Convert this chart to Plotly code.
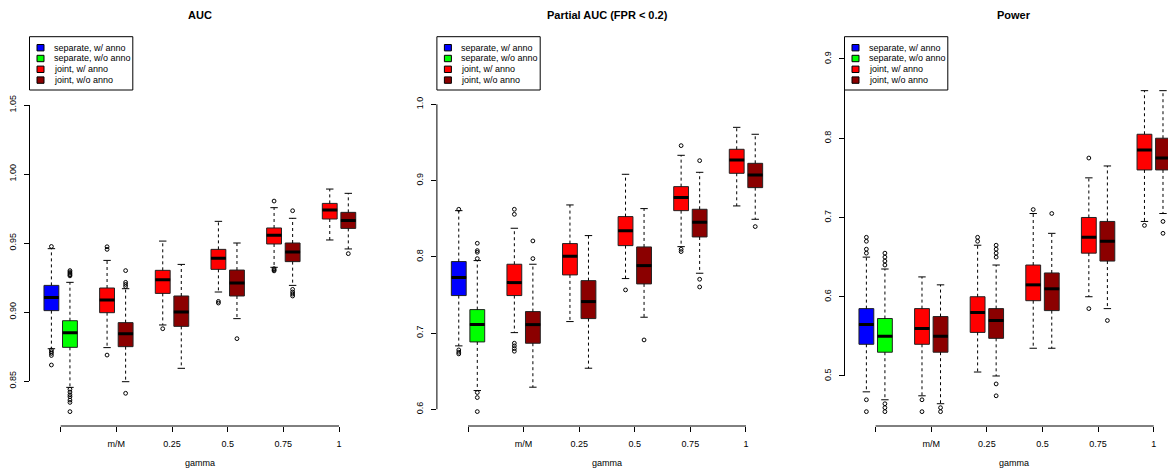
import plotly.graph_objects as go

# ---------------- data ----------------
GROUPS = ["", "m/M", "0.25", "0.5", "0.75", "1"]
SERIES = ["separate, w/ anno", "separate, w/o anno", "joint, w/ anno", "joint, w/o anno"]
COLORS = ["#0000FF", "#00FF00", "#FF0000", "#8B0000"]
# which series / which gamma group each of the 12 boxes belongs to
BOX_SERIES = [0, 1, 2, 3, 2, 3, 2, 3, 2, 3, 2, 3]
BOX_GROUP = [0, 0, 1, 1, 2, 2, 3, 3, 4, 4, 5, 5]

AUC_HI = [0.9459, 0.9215, 0.9374, 0.9169, 0.9514, 0.9345, 0.9657, 0.9500, 0.9756, 0.9679, 0.9891, 0.9860]
AUC_Q3 = [0.9193, 0.8937, 0.9174, 0.8923, 0.9302, 0.9116, 0.9454, 0.9304, 0.9609, 0.9500, 0.9787, 0.9722]
AUC_MED = [0.9106, 0.8850, 0.9087, 0.8843, 0.9234, 0.9000, 0.9389, 0.9210, 0.9556, 0.9435, 0.9739, 0.9664]
AUC_Q1 = [0.9010, 0.8744, 0.8995, 0.8749, 0.9135, 0.8896, 0.9309, 0.9116, 0.9493, 0.9365, 0.9674, 0.9606]
AUC_LO = [0.8734, 0.8454, 0.8742, 0.8495, 0.8906, 0.8592, 0.9145, 0.8952, 0.9324, 0.9193, 0.9522, 0.9457]
AUC_OUT = [
    [0.9475, 0.8725, 0.8712, 0.8700, 0.8685, 0.8616],
    [0.9300, 0.9290, 0.9280, 0.9270, 0.9262, 0.8440, 0.8420, 0.8400, 0.8386, 0.8362, 0.8345, 0.8278],
    [0.9473, 0.9454, 0.8688],
    [0.9300, 0.9215, 0.9200, 0.9185, 0.8411],
    [0.8879],
    [],
    [0.9077, 0.9065],
    [0.8807],
    [0.9804, 0.9314, 0.9305, 0.9298],
    [0.9734, 0.9164, 0.9145, 0.9130, 0.9116],
    [],
    [0.9423],
]

PAUC_HI = [0.8605, 0.7950, 0.8374, 0.7902, 0.8680, 0.8278, 0.9082, 0.8632, 0.9331, 0.9108, 0.9698, 0.9607]
PAUC_Q3 = [0.7937, 0.7307, 0.7902, 0.7281, 0.8173, 0.7687, 0.8527, 0.8129, 0.8920, 0.8623, 0.9410, 0.9226]
PAUC_MED = [0.7727, 0.7110, 0.7661, 0.7110, 0.8007, 0.7412, 0.8343, 0.7884, 0.8776, 0.8452, 0.9270, 0.9073]
PAUC_Q1 = [0.7491, 0.6883, 0.7491, 0.6866, 0.7762, 0.7189, 0.8146, 0.7644, 0.8605, 0.8260, 0.9095, 0.8907]
PAUC_LO = [0.6831, 0.6245, 0.7005, 0.6289, 0.7150, 0.6538, 0.7714, 0.7207, 0.8133, 0.7784, 0.8667, 0.8492]
PAUC_OUT = [
    [0.8623, 0.6778, 0.6748, 0.6726],
    [0.8177, 0.8081, 0.8059, 0.7976, 0.6219, 0.6153, 0.5969],
    [0.8623, 0.8557, 0.6866, 0.6831, 0.6796, 0.6761],
    [0.8208, 0.7976],
    [],
    [],
    [0.7565],
    [0.6909],
    [0.9458, 0.8098, 0.8068],
    [0.9261, 0.7705, 0.7604],
    [],
    [0.8396],
]

POW_HI = [0.650, 0.635, 0.625, 0.615, 0.665, 0.640, 0.705, 0.680, 0.750, 0.765, 0.860, 0.860]
POW_Q3 = [0.585, 0.5725, 0.585, 0.575, 0.600, 0.585, 0.640, 0.630, 0.700, 0.695, 0.805, 0.800]
POW_MED = [0.565, 0.550, 0.560, 0.550, 0.580, 0.570, 0.615, 0.610, 0.675, 0.670, 0.785, 0.775]
POW_Q1 = [0.540, 0.530, 0.540, 0.530, 0.555, 0.5475, 0.595, 0.5825, 0.655, 0.645, 0.760, 0.760]
POW_LO = [0.480, 0.470, 0.475, 0.465, 0.505, 0.500, 0.535, 0.535, 0.600, 0.585, 0.695, 0.705]
POW_OUT = [
    [0.675, 0.670, 0.660, 0.655, 0.470, 0.455],
    [0.655, 0.650, 0.645, 0.640, 0.465, 0.460, 0.455],
    [0.470, 0.455],
    [0.460, 0.455],
    [0.675, 0.670],
    [0.665, 0.660, 0.655, 0.650, 0.490, 0.475],
    [0.710],
    [0.705],
    [0.775, 0.585],
    [0.570],
    [0.690],
    [0.695, 0.680],
]

AUC_TICKS = [0.85, 0.90, 0.95, 1.00, 1.05]
PAUC_TICKS = [0.6, 0.7, 0.8, 0.9, 1.0]
POW_TICKS = [0.5, 0.6, 0.7, 0.8, 0.9]

# ---------------- layout helpers ----------------
W, H = 1168, 473
FONT = "Liberation Sans, Arial, Helvetica, sans-serif"
TOP_PX, BOT_PX = 36.7, 426.0

panels = [
    dict(title="<b>AUC</b>", hi=AUC_HI, q3=AUC_Q3, med=AUC_MED, q1=AUC_Q1, lo=AUC_LO, out=AUC_OUT,
         ticks=AUC_TICKS, fmt="{:.2f}", yrange=[0.8174, 1.0995],
         px=(29.5, 370.2), xrange=[-0.18, 18.18], center=199.9),
    dict(title="<b>Partial AUC (FPR &lt; 0.2)</b>", hi=PAUC_HI, q3=PAUC_Q3, med=PAUC_MED, q1=PAUC_Q1,
         lo=PAUC_LO, out=PAUC_OUT, ticks=PAUC_TICKS, fmt="{:.1f}", yrange=[0.578, 1.0887],
         px=(436.9, 777.1), xrange=[-0.18, 18.18], center=607.0),
    dict(title="<b>Power</b>", hi=POW_HI, q3=POW_Q3, med=POW_MED, q1=POW_Q1, lo=POW_LO, out=POW_OUT,
         ticks=POW_TICKS, fmt="{:.1f}", yrange=[0.4369, 0.9281],
         px=(844.5, 1168.0), xrange=[-0.18, 17.27], center=1014.4),
]

BOXW = 0.8
STAPLE = 0.2
pos = [3 * BOX_GROUP[i] + 1 + (i % 2) for i in range(len(BOX_GROUP))]
tickpos = [3 * g + 1.5 for g in range(len(GROUPS))]

fig = go.Figure()
shapes = []
annotations = []

for k, p in enumerate(panels, start=1):
    xa = "x" if k == 1 else f"x{k}"
    ya = "y" if k == 1 else f"y{k}"
    wx, wy = [], []
    sx, sy = [], []
    mx, my = [], []
    ox, oy = [], []
    for i, x in enumerate(pos):
        wx += [x, x, None, x, x, None]
        wy += [p["q3"][i], p["hi"][i], None, p["q1"][i], p["lo"][i], None]
        sx += [x - STAPLE, x + STAPLE, None, x - STAPLE, x + STAPLE, None]
        sy += [p["hi"][i], p["hi"][i], None, p["lo"][i], p["lo"][i], None]
        mx += [x - BOXW / 2, x + BOXW / 2, None]
        my += [p["med"][i], p["med"][i], None]
        ox += [x] * len(p["out"][i])
        oy += p["out"][i]
    # dashed whiskers
    fig.add_trace(go.Scatter(x=wx, y=wy, mode="lines", xaxis=xa, yaxis=ya,
                             line=dict(color="black", width=1, dash="3px,3px"),
                             showlegend=False, hoverinfo="skip"))
    # boxes
    for i, x in enumerate(pos):
        s = BOX_SERIES[i]
        fig.add_trace(go.Box(x=[x], q1=[p["q1"][i]], median=[p["med"][i]], q3=[p["q3"][i]],
                             lowerfence=[p["q1"][i]], upperfence=[p["q3"][i]],
                             width=BOXW, whiskerwidth=0, fillcolor=COLORS[s],
                             line=dict(color="#222222", width=1), name=SERIES[s],
                             xaxis=xa, yaxis=ya, showlegend=False, hoverinfo="skip"))
    # thick medians
    fig.add_trace(go.Scatter(x=mx, y=my, mode="lines", xaxis=xa, yaxis=ya,
                             line=dict(color="black", width=3),
                             showlegend=False, hoverinfo="skip"))
    # staples
    fig.add_trace(go.Scatter(x=sx, y=sy, mode="lines", xaxis=xa, yaxis=ya,
                             line=dict(color="black", width=1),
                             showlegend=False, hoverinfo="skip"))
    # outliers
    fig.add_trace(go.Scatter(x=ox, y=oy, mode="markers", xaxis=xa, yaxis=ya,
                             marker=dict(symbol="circle-open", size=3.8, color="black",
                                         line=dict(width=1, color="black")),
                             showlegend=False, hoverinfo="skip"))

    x0, x1 = p["px"]
    axis_common = dict(showgrid=False, zeroline=False, showline=False, ticks="outside",
                       ticklen=5, tickwidth=1, tickcolor="black",
                       tickfont=dict(family=FONT, size=9, color="black"))
    fig.update_layout(**{
        ("xaxis" if k == 1 else f"xaxis{k}"): dict(
            domain=[x0 / W, x1 / W], range=p["xrange"], anchor=ya,
            tickmode="array", tickvals=tickpos, ticktext=GROUPS,
            ticklabelstandoff=4, **axis_common),
        ("yaxis" if k == 1 else f"yaxis{k}"): dict(
            domain=[1 - BOT_PX / H, 1 - TOP_PX / H], range=p["yrange"], anchor=xa,
            tickmode="array", tickvals=p["ticks"], ticktext=[p["fmt"].format(t) for t in p["ticks"]],
            tickangle=-90, ticklabelstandoff=4, **axis_common),
    })
    # R-style axis lines spanning only first..last tick
    shapes.append(dict(type="line", xref=xa, yref=f"{ya} domain", x0=tickpos[0], x1=tickpos[-1],
                       y0=0, y1=0, line=dict(color="black", width=1)))
    shapes.append(dict(type="line", xref=f"{xa} domain", yref=ya, x0=0, x1=0,
                       y0=p["ticks"][0], y1=p["ticks"][-1], line=dict(color="black", width=1)))

    # legend box (top-left of plot region)
    lx0, ly0 = x0, TOP_PX
    shapes.append(dict(type="rect", xref="paper", yref="paper",
                       x0=lx0 / W, x1=(lx0 + 103.3) / W,
                       y0=1 - (ly0 + 53.3) / H, y1=1 - ly0 / H,
                       line=dict(color="black", width=1), fillcolor="white", layer="above"))
    for j, name in enumerate(SERIES):
        cy = ly0 + 11 + 10.8 * j
        cx = lx0 + 11
        shapes.append(dict(type="rect", xref="paper", yref="paper",
                           x0=(cx - 3.5) / W, x1=(cx + 3.5) / W,
                           y0=1 - (cy + 3.2) / H, y1=1 - (cy - 3.2) / H,
                           line=dict(color="black", width=1), fillcolor=COLORS[j], layer="above"))
        annotations.append(dict(text=name, xref="paper", yref="paper",
                                x=(lx0 + 22.2) / W, y=1 - cy / H, xanchor="left", yanchor="middle",
                                showarrow=False, font=dict(family=FONT, size=9, color="black")))
    # titles & axis label
    annotations.append(dict(text=p["title"], xref="paper", yref="paper",
                            x=p["center"] / W, y=1 - 15 / H, xanchor="center", yanchor="middle",
                            showarrow=False, font=dict(family=FONT, size=11, color="black")))
    annotations.append(dict(text="gamma", xref="paper", yref="paper",
                            x=p["center"] / W, y=1 - 463 / H, xanchor="center", yanchor="middle",
                            showarrow=False, font=dict(family=FONT, size=9, color="black")))

fig.update_layout(width=W, height=H, margin=dict(l=0, r=0, t=0, b=0),
                  paper_bgcolor="white", plot_bgcolor="white", boxmode="overlay",
                  showlegend=False, shapes=shapes, annotations=annotations,
                  font=dict(family=FONT, size=9, color="black"))

fig.write_html("out.html", config={"displayModeBar": False},
               post_script="document.body.style.margin='0';")
